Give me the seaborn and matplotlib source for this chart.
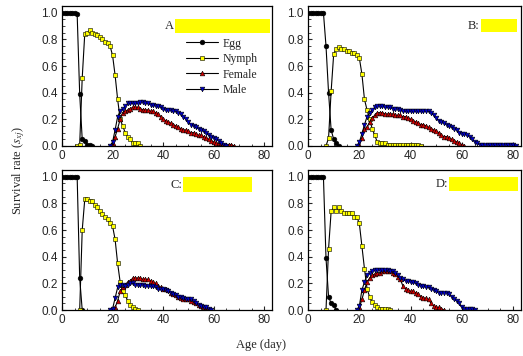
import numpy as np
import pandas as pd
import matplotlib
matplotlib.use("Agg")
import matplotlib.pyplot as plt
from matplotlib.patches import Rectangle
from matplotlib.ticker import MultipleLocator
import seaborn as sns

# survival rate per day, each stage starts at its own age (day)
egg_a = [1, 1, 1, 1, 1, 1, 0.99, 0.39, 0.05, 0.04, 0.01, 0.01, 0.0]
nymph_a_start = 6
nymph_a = [0.0, 0.01, 0.51, 0.84, 0.85, 0.87, 0.85, 0.84, 0.83, 0.82, 0.80, 0.78,
           0.77, 0.75, 0.68, 0.53, 0.35, 0.20, 0.15, 0.10, 0.07, 0.05, 0.02, 0.02,
           0.02, 0.0]
female_a_start = 19
female_a = [0.0, 0.02, 0.07, 0.13, 0.20, 0.25, 0.26, 0.27, 0.28, 0.29, 0.29, 0.29,
            0.28, 0.27, 0.27, 0.27, 0.26, 0.26, 0.25, 0.24, 0.22, 0.20, 0.19, 0.18,
            0.17, 0.16, 0.15, 0.14, 0.13, 0.12, 0.12, 0.11, 0.10, 0.10, 0.09, 0.08,
            0.08, 0.07, 0.06, 0.05, 0.04, 0.03, 0.02, 0.02, 0.02, 0.01, 0.01, 0.01,
            0.01, 0.0]
male_a_start = 19
male_a = [0.0, 0.03, 0.12, 0.22, 0.26, 0.28, 0.30, 0.32, 0.32, 0.32, 0.32, 0.32,
          0.33, 0.33, 0.32, 0.32, 0.31, 0.31, 0.30, 0.30, 0.29, 0.28, 0.27, 0.27,
          0.27, 0.26, 0.26, 0.25, 0.24, 0.22, 0.20, 0.18, 0.16, 0.15, 0.14, 0.13,
          0.12, 0.11, 0.10, 0.08, 0.07, 0.06, 0.05, 0.04, 0.02, 0.01, 0.0]

egg_b = [1, 1, 1, 1, 1, 1, 1, 0.75, 0.40, 0.12, 0.05, 0.02, 0.0]
nymph_b_start = 7
nymph_b = [0.0, 0.06, 0.41, 0.69, 0.73, 0.74, 0.73, 0.73, 0.71, 0.71, 0.70, 0.70,
           0.68, 0.66, 0.54, 0.35, 0.27, 0.20, 0.13, 0.08, 0.03, 0.02, 0.02, 0.02,
           0.01, 0.01, 0.01, 0.01, 0.01, 0.01, 0.01, 0.01, 0.01, 0.01, 0.01, 0.01,
           0.01, 0.0]
female_b_start = 19
female_b = [0.0, 0.01, 0.06, 0.13, 0.14, 0.18, 0.21, 0.23, 0.25, 0.25, 0.25, 0.24,
            0.24, 0.24, 0.24, 0.23, 0.23, 0.23, 0.22, 0.22, 0.21, 0.20, 0.19, 0.18,
            0.17, 0.16, 0.16, 0.15, 0.14, 0.13, 0.12, 0.11, 0.10, 0.08, 0.07, 0.07,
            0.06, 0.05, 0.04, 0.03, 0.02, 0.01, 0.0]
male_b_start = 19
male_b = [0.0, 0.03, 0.09, 0.16, 0.22, 0.25, 0.27, 0.29, 0.30, 0.30, 0.30, 0.29,
          0.29, 0.29, 0.28, 0.28, 0.28, 0.27, 0.26, 0.26, 0.26, 0.26, 0.26, 0.26,
          0.26, 0.26, 0.26, 0.26, 0.26, 0.25, 0.23, 0.21, 0.19, 0.18, 0.17, 0.16,
          0.15, 0.14, 0.13, 0.12, 0.10, 0.09, 0.09, 0.08, 0.07, 0.05, 0.03, 0.02,
          0.01, 0.01, 0.01, 0.01, 0.01, 0.01, 0.01, 0.01, 0.01, 0.01, 0.01, 0.01,
          0.01, 0.01, 0.0]

egg_c = [1, 1, 1, 1, 1, 1, 1, 0.24, 0.0]
nymph_c_start = 7
nymph_c = [0.0, 0.60, 0.83, 0.83, 0.82, 0.82, 0.79, 0.77, 0.74, 0.72, 0.70, 0.68,
           0.65, 0.63, 0.53, 0.35, 0.21, 0.14, 0.11, 0.07, 0.04, 0.02, 0.01, 0.0]
female_c_start = 19
female_c = [0.0, 0.01, 0.02, 0.07, 0.14, 0.17, 0.19, 0.21, 0.22, 0.24, 0.24, 0.24,
            0.24, 0.23, 0.23, 0.23, 0.22, 0.21, 0.20, 0.18, 0.17, 0.16, 0.16, 0.15,
            0.13, 0.12, 0.11, 0.10, 0.09, 0.08, 0.08, 0.08, 0.07, 0.06, 0.05, 0.04,
            0.03, 0.02, 0.01, 0.01, 0.0]
male_c_start = 19
male_c = [0.0, 0.01, 0.09, 0.17, 0.19, 0.19, 0.18, 0.19, 0.20, 0.20, 0.19, 0.19,
          0.19, 0.19, 0.18, 0.18, 0.18, 0.18, 0.17, 0.16, 0.16, 0.16, 0.15, 0.14,
          0.13, 0.12, 0.11, 0.10, 0.10, 0.09, 0.08, 0.08, 0.08, 0.07, 0.05, 0.04,
          0.03, 0.02, 0.02, 0.01, 0.0]

egg_d = [1, 1, 1, 1, 1, 1, 1, 0.39, 0.10, 0.05, 0.04, 0.0]
nymph_d_start = 7
nymph_d = [0.0, 0.46, 0.74, 0.77, 0.74, 0.77, 0.74, 0.73, 0.73, 0.73, 0.73, 0.70,
           0.70, 0.65, 0.48, 0.31, 0.16, 0.10, 0.06, 0.04, 0.02, 0.01, 0.01, 0.01,
           0.01, 0.0]
female_d_start = 19
female_d = [0.0, 0.02, 0.08, 0.15, 0.21, 0.24, 0.26, 0.27, 0.28, 0.28, 0.29, 0.29,
            0.29, 0.29, 0.28, 0.27, 0.25, 0.23, 0.18, 0.16, 0.15, 0.14, 0.14, 0.13,
            0.12, 0.10, 0.09, 0.09, 0.08, 0.05, 0.03, 0.02, 0.02, 0.01, 0.0]
male_d_start = 19
male_d = [0.0, 0.03, 0.15, 0.21, 0.26, 0.28, 0.29, 0.30, 0.30, 0.30, 0.30, 0.30,
          0.30, 0.29, 0.29, 0.28, 0.26, 0.24, 0.23, 0.22, 0.22, 0.21, 0.21, 0.20,
          0.19, 0.18, 0.18, 0.17, 0.17, 0.16, 0.15, 0.14, 0.13, 0.13, 0.13, 0.13,
          0.12, 0.10, 0.08, 0.07, 0.05, 0.02, 0.01, 0.01, 0.01, 0.01, 0.0]

stages = ["Egg", "Nymph", "Female", "Male"]
panel_labels = ["A", "B:", "C:", "D:"]

panels = [
    [(0, egg_a), (nymph_a_start, nymph_a), (female_a_start, female_a), (male_a_start, male_a)],
    [(0, egg_b), (nymph_b_start, nymph_b), (female_b_start, female_b), (male_b_start, male_b)],
    [(0, egg_c), (nymph_c_start, nymph_c), (female_c_start, female_c), (male_c_start, male_c)],
    [(0, egg_d), (nymph_d_start, nymph_d), (female_d_start, female_d), (male_d_start, male_d)],
]

sns.set_style("ticks")
plt.rcParams["font.family"] = ["Liberation Sans", "DejaVu Sans"]
plt.rcParams["mathtext.fontset"] = "stix"

# marker style per stage
styles = {
    "Egg": dict(marker="o", markerfacecolor="black"),
    "Nymph": dict(marker="s", markerfacecolor="#ffff00"),
    "Female": dict(marker="^", markerfacecolor="#d00000"),
    "Male": dict(marker="v", markerfacecolor="#0000c8"),
}

fig = plt.figure(figsize=(5.23, 3.56), dpi=100)

# axes boxes [left, bottom, width, height] in figure fraction
boxes = [
    [0.1185, 0.590, 0.4015, 0.393],
    [0.589, 0.590, 0.407, 0.393],
    [0.1185, 0.129, 0.4015, 0.393],
    [0.589, 0.129, 0.407, 0.393],
]
# yellow box and label positions in axes fraction
rects = [
    (0.538, 0.807, 0.452, 0.100),
    (0.812, 0.813, 0.169, 0.093),
    (0.576, 0.843, 0.329, 0.107),
    (0.662, 0.850, 0.324, 0.100),
]
serif = ["Liberation Serif", "DejaVu Serif"]

for i, (box, series) in enumerate(zip(boxes, panels)):
    ax = fig.add_axes(box)
    for stage, (start, vals) in zip(stages, series):
        df = pd.DataFrame({"age": np.arange(start, start + len(vals)), "s": vals})
        sns.lineplot(data=df, x="age", y="s", ax=ax, color="black", linewidth=0.8,
                     markersize=3.4, markeredgecolor="black", markeredgewidth=0.4,
                     label=stage if i == 0 else None, **styles[stage])
    ax.set_xlim(0, 83)
    ax.set_ylim(0, 1.05)
    ax.set_xlabel("")
    ax.set_ylabel("")
    ax.set_xticks([0, 20, 40, 60, 80])
    ax.set_yticks([0, 0.2, 0.4, 0.6, 0.8, 1.0])
    ax.set_yticklabels(["0.0", "0.2", "0.4", "0.6", "0.8", "1.0"])
    ax.xaxis.set_minor_locator(MultipleLocator(5))
    ax.yaxis.set_minor_locator(MultipleLocator(0.05))
    ax.tick_params(which="major", direction="in", length=3, width=0.8,
                   labelsize=8.5, pad=3)
    ax.tick_params(which="minor", direction="in", length=1.8, width=0.6)
    for sp in ax.spines.values():
        sp.set_visible(True)
        sp.set_linewidth(0.9)
        sp.set_color("black")

    rx, ry, rw, rh = rects[i]
    ax.add_patch(Rectangle((rx, ry), rw, rh, transform=ax.transAxes,
                           facecolor="#ffff00", edgecolor="none", zorder=5))
    ax.text(rx - 0.005, ry + rh / 2, panel_labels[i], transform=ax.transAxes,
            ha="right", va="center", fontsize=9, family=serif)

    if i == 0:
        ax.legend(loc="upper left", bbox_to_anchor=(0.59, 0.775), frameon=False,
                  prop={"family": serif, "size": 8.5}, handlelength=2.7,
                  handletextpad=0.4, labelspacing=0.3, borderpad=0,
                  borderaxespad=0)
    else:
        leg = ax.get_legend()
        if leg is not None:
            leg.remove()

fig.text(0.035, 0.52, "Survival rate ($s_{xj}$)", rotation=90, ha="center",
         va="center", fontsize=9, family=serif)
fig.text(0.50, 0.03, "Age (day)", ha="center", va="center", fontsize=9,
         family=serif)

fig.savefig("out.png", dpi=100, facecolor="white")
